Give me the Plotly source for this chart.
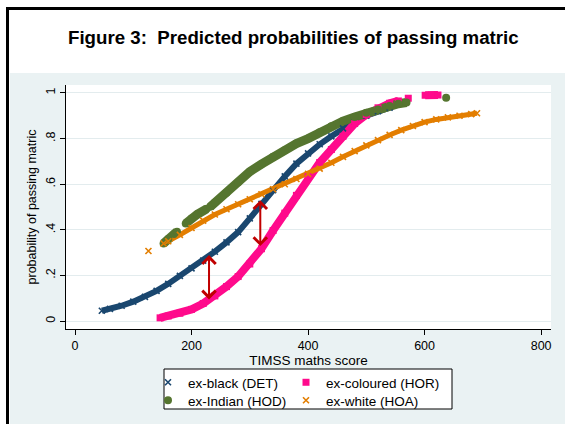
import plotly.graph_objects as go

# ---------------- data ----------------
det_x = [46, 60, 80, 100, 120, 140, 160, 180, 200, 220, 240, 260, 280, 300, 320,
         340, 360, 380, 400, 420, 440, 460, 480, 500, 520, 540]
det_p = [0.045, 0.053, 0.067, 0.085, 0.106, 0.132, 0.163, 0.198, 0.231, 0.265, 0.304,
         0.345, 0.390, 0.450, 0.514, 0.574, 0.634, 0.690, 0.735, 0.775, 0.810, 0.845,
         0.874, 0.900, 0.920, 0.936]

hor_x = [146, 160, 180, 200, 220, 240, 260, 280, 300, 320, 340, 360, 380, 400, 420,
         440, 460, 480, 500, 520, 540, 555, None, 572, None, 601, 612, 623]
hor_p = [0.014, 0.022, 0.034, 0.051, 0.077, 0.110, 0.151, 0.195, 0.250, 0.317, 0.397,
         0.473, 0.551, 0.633, 0.695, 0.752, 0.810, 0.866, 0.905, 0.935, 0.955, 0.965,
         None, 0.977, None, 0.990, 0.991, 0.991]

hod_x = [152, 160, 170, 175, None, 190, 200, 210, 226, None, 232, 240, 260, 280, 300,
         320, 340, 360, 380, 400, 420, 440, 460, 480, 500, 520, 540, 555, 569, None, 637]
hod_p = [0.340, 0.360, 0.382, 0.392, None, 0.428, 0.450, 0.468, 0.492, None, 0.501,
         0.520, 0.562, 0.608, 0.655, 0.688, 0.720, 0.749, 0.778, 0.800, 0.828, 0.854,
         0.877, 0.895, 0.913, 0.928, 0.943, 0.953, 0.958, None, 0.979]

hoa_x = [126, None, 152, 160, 180, 200, 220, 240, 260, 280, 300, 320, 340, 360, 380,
         400, 420, 440, 460, 480, 500, 520, 540, 560, 580, 600, 620, 640, 660, 680, 690]
hoa_p = [0.307, None, 0.340, 0.350, 0.378, 0.408, 0.440, 0.467, 0.490, 0.512, 0.534,
         0.556, 0.578, 0.600, 0.623, 0.645, 0.668, 0.694, 0.720, 0.745, 0.770, 0.793,
         0.816, 0.837, 0.855, 0.872, 0.884, 0.893, 0.900, 0.907, 0.911]

# gap arrows
gap_x = [230, 318]
gap_low = [0.088, 0.322]
gap_high = [0.289, 0.530]

x_ticks = [0, 200, 400, 600, 800]
y_ticks = [0, 0.2, 0.4, 0.6, 0.8, 1]
y_ticktext = ["0", ".2", ".4", ".6", ".8", "1"]

labels = ["ex-black (DET)", "ex-coloured (HOR)", "ex-Indian (HOD)", "ex-white (HOA)"]

# ---------------- layout geometry ----------------
FW, FH = 565, 424
L, R, T, B = 66, 14, 85, 95
PW, PH = FW - L - R, FH - T - B


def px_x(px):
    return (px - L) / PW


def px_y(py):
    return 1 - (py - T) / PH


NAVY = "#1A476F"
PINK = "#FF0A8C"
GREEN = "#55752F"
ORANGE = "#E37E00"
ARROW = "#C00000"
BG = "#EAF2F3"
FONT = "Liberation Sans, Arial, sans-serif"

fig = go.Figure()

# (x, y, colour, band width, symbol, marker size, label, legend id, legend px x, legend px top)
series = [
    (det_x, det_p, NAVY, 6, "x-thin", 6, labels[0], "legend", 148, 367),
    (hor_x, hor_p, PINK, 8, "square", 7, labels[1], "legend2", 286, 367),
    (hod_x, hod_p, GREEN, 9, "circle", 8, labels[2], "legend3", 148, 385),
    (hoa_x, hoa_p, ORANGE, 5, "x-thin", 6, labels[3], "legend4", 286, 385),
]

for xs, ps, col, lw, sym, ms, name, leg, lx, ly in series:
    fig.add_trace(go.Scatter(x=xs, y=ps, mode="lines", line=dict(color=col, width=lw),
                             showlegend=False, hoverinfo="skip"))
for xs, ps, col, lw, sym, ms, name, leg, lx, ly in series:
    fig.add_trace(go.Scatter(
        x=xs, y=ps, mode="markers", name=name, legend=leg,
        marker=dict(symbol=sym, size=ms, color=col,
                    line=dict(color=col, width=1.6 if "x" in sym else 0))))

for gx, lo, hi in zip(gap_x, gap_low, gap_high):
    fig.add_annotation(x=gx, y=hi, ax=gx, ay=lo, xref="x", yref="y", axref="x", ayref="y",
                       text="", showarrow=True, arrowhead=4, startarrowhead=4,
                       arrowside="end+start", arrowsize=1.3, arrowwidth=2,
                       arrowcolor=ARROW, standoff=0, startstandoff=0)

shapes = [
    # white title strip and left strip (paper bg is the grey panel colour)
    dict(type="rect", xref="paper", yref="paper", x0=px_x(0), x1=px_x(FW), y0=px_y(73),
         y1=px_y(0), fillcolor="white", line=dict(width=0), layer="below"),
    dict(type="rect", xref="paper", yref="paper", x0=px_x(0), x1=px_x(10), y0=px_y(FH),
         y1=px_y(0), fillcolor="white", line=dict(width=0), layer="below"),
    # black frame
    dict(type="line", xref="paper", yref="paper", x0=px_x(6), x1=px_x(FW), y0=px_y(8.5),
         y1=px_y(8.5), line=dict(color="black", width=3)),
    dict(type="line", xref="paper", yref="paper", x0=px_x(7.5), x1=px_x(7.5), y0=px_y(7),
         y1=px_y(FH), line=dict(color="black", width=3)),
    # legend box
    dict(type="rect", xref="paper", yref="paper", x0=px_x(164), x1=px_x(452),
         y0=px_y(409), y1=px_y(369), fillcolor="white",
         line=dict(color="black", width=1), layer="below"),
]

fig.add_annotation(xref="paper", yref="paper", x=px_x(293), y=px_y(37),
                   text="<b>Figure 3:\u00a0 Predicted probabilities of passing matric</b>",
                   showarrow=False,
                   font=dict(family="Liberation Sans, Arial, sans-serif", size=18.7,
                             color="black"),
                   xanchor="center", yanchor="middle")

legend_layout = {}
for xs, ps, col, lw, sym, ms, name, leg, lx, ly in series:
    legend_layout[leg] = dict(x=px_x(lx), y=px_y(ly), xanchor="left", yanchor="top",
                              bgcolor="rgba(0,0,0,0)", font=dict(size=13.5),
                              itemwidth=30)

fig.update_layout(
    template="none",
    width=FW, height=FH,
    margin=dict(l=L, r=R, t=T, b=B, autoexpand=False),
    paper_bgcolor=BG, plot_bgcolor="white",
    font=dict(family=FONT, size=12, color="black"),
    shapes=shapes,
    xaxis=dict(range=[-15.5, 817], tickvals=x_ticks, showgrid=False, zeroline=False,
               showline=True, linecolor="black", linewidth=1, ticks="outside",
               ticklen=5, tickcolor="black", tickfont=dict(size=12.5), automargin=False,
               title=dict(text="TIMSS maths score", font=dict(size=13.5), standoff=0)),
    yaxis=dict(range=[-0.035, 1.035], tickvals=y_ticks, ticktext=y_ticktext,
               tickangle=-90, showgrid=True, gridcolor="#E3ECEE", gridwidth=1,
               zeroline=False, showline=True, linecolor="black", linewidth=1,
               ticks="outside", ticklen=5, tickcolor="black", tickfont=dict(size=12.5),
               automargin=False,
               title=dict(text="probability of passing matric", font=dict(size=12.5),
                          standoff=4)),
    **legend_layout,
)

fig.write_html("out.html", config={"displayModeBar": False},
               post_script="document.body.style.margin='0';document.body.style.padding='0';")
